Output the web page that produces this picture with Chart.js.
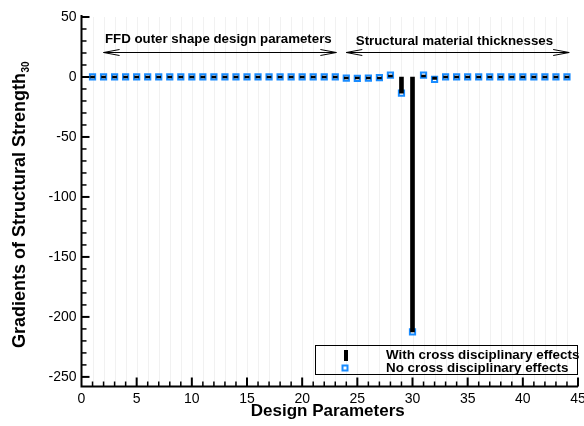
<!DOCTYPE html>
<html>
<head>
<meta charset="utf-8">
<script src="https://cdn.jsdelivr.net/npm/chart.js@4"></script>
<style>
  html, body { margin: 0; padding: 0; background: #fff; }
  #wrap { width: 584px; height: 426px; }
</style>
</head>
<body>
<div id="wrap"><canvas id="c" width="584" height="426"></canvas></div>
<script>
// Design parameter index: 1-23 FFD shape parameters, 24-44 material thicknesses
const params = [1,2,3,4,5,6,7,8,9,10,11,12,13,14,15,16,17,18,19,20,21,22,
                23,24,25,26,27,28,29,30,31,32,33,34,35,36,37,38,39,40,41,42,43,44];

// Gradient of structural strength (element 30) w.r.t. each parameter
const withCross = [0,0,0,0,0,0,0,0,0,0,0,0,0,0,0,0,0,0,0,0,0,0,
                   0,-1,-1.2,-1,-0.5,1.5,-13.5,-212.5,1.5,-2,0,0,0,0,0,0,0,0,0,0,0,0];
const noCross   = [0,0,0,0,0,0,0,0,0,0,0,0,0,0,0,0,0,0,0,0,0,0,
                   0,-1,-1.2,-1,-0.5,1.5,-13.5,-212.5,1.5,-2,0,0,0,0,0,0,0,0,0,0,0,0];

const xTicks = [0,5,10,15,20,25,30,35,40,45];
const yTicks = [50,0,-50,-100,-150,-200,-250];

const seriesNames = ['With cross disciplinary effects', 'No cross disciplinary effects'];
const xTitle = 'Design Parameters';
const yTitle = 'Gradients of Structural Strength';
const yTitleSub = '30';
const groupLabels = ['FFD outer shape design parameters', 'Structural material thicknesses'];

const FONT = '"Liberation Sans", Arial, Helvetica, sans-serif';
const BLUE = '#1a8cff';

function pts(vals) { return params.map((p, i) => ({ x: p, y: vals[i] })); }

function arrowHead(ctx, x, y, dir) {
  ctx.beginPath();
  ctx.moveTo(x + dir * 16, y - 3);
  ctx.lineTo(x, y);
  ctx.lineTo(x + dir * 16, y + 3);
  ctx.stroke();
}

const decor = {
  id: 'decor',
  beforeDatasetsDraw(chart) {
    const { ctx, chartArea: a, scales: { x } } = chart;
    ctx.save();
    ctx.strokeStyle = '#f1f1f1';
    ctx.lineWidth = 1;
    for (let v = 1; v < 45; v++) {
      const px = Math.round(x.getPixelForValue(v)) + 0.5;
      ctx.beginPath(); ctx.moveTo(px, a.top); ctx.lineTo(px, a.bottom); ctx.stroke();
    }
    ctx.restore();
  },
  afterDatasetsDraw(chart) {
    const { ctx, chartArea: a, scales: { x, y } } = chart;
    ctx.save();
    ctx.strokeStyle = '#000';
    ctx.fillStyle = '#000';

    // axis lines
    ctx.lineWidth = 2;
    ctx.beginPath();
    ctx.moveTo(a.left, a.top - 2);
    ctx.lineTo(a.left, a.bottom);
    ctx.lineTo(a.right, a.bottom);
    ctx.stroke();

    // inward ticks on y
    for (let v = -250; v <= 50; v += 10) {
      const major = v % 50 === 0;
      const py = y.getPixelForValue(v);
      ctx.lineWidth = major ? 2 : 1.5;
      ctx.beginPath(); ctx.moveTo(a.left, py); ctx.lineTo(a.left + (major ? 8 : 5), py); ctx.stroke();
    }
    // inward ticks on x
    for (let v = 1; v <= 45; v++) {
      const major = v % 5 === 0;
      const px = x.getPixelForValue(v);
      ctx.lineWidth = major ? 2 : 1.5;
      ctx.beginPath(); ctx.moveTo(px, a.bottom); ctx.lineTo(px, a.bottom - (major ? 9 : 5)); ctx.stroke();
    }

    // parameter group annotations
    ctx.lineWidth = 1;
    const ay = Math.round(y.getPixelForValue(20.5)) + 0.5;
    const spans = [[2, 23.1], [24, 44.2]];
    spans.forEach(([s, e]) => {
      const xs = x.getPixelForValue(s), xe = x.getPixelForValue(e);
      ctx.beginPath(); ctx.moveTo(xs, ay); ctx.lineTo(xe, ay); ctx.stroke();
      arrowHead(ctx, xs, ay, 1);
      arrowHead(ctx, xe, ay, -1);
    });
    ctx.font = 'bold 13.3px ' + FONT;
    ctx.textAlign = 'center';
    ctx.textBaseline = 'alphabetic';
    ctx.fillText(groupLabels[0], x.getPixelForValue(12.4), y.getPixelForValue(28.5));
    ctx.fillText(groupLabels[1], x.getPixelForValue(33.8), y.getPixelForValue(26.5));

    // legend
    const lx0 = 315.5, ly0 = 345.5, lx1 = a.right - 0.5, ly1 = 374.5;
    ctx.lineWidth = 1;
    ctx.strokeRect(lx0, ly0, lx1 - lx0, ly1 - ly0);
    ctx.fillRect(344, 350, 4, 11);
    ctx.fillStyle = '#fff';
    ctx.fillRect(342.5, 365.5, 5, 5);
    ctx.strokeStyle = BLUE;
    ctx.lineWidth = 2;
    ctx.strokeRect(342.5, 365.5, 5, 5);
    ctx.fillStyle = '#000';
    ctx.font = 'bold 13.4px ' + FONT;
    ctx.textAlign = 'left';
    ctx.textBaseline = 'middle';
    ctx.fillText(seriesNames[0], 386, 355.5);
    ctx.fillText(seriesNames[1], 386, 368.5);

    // axis titles
    ctx.font = 'bold 17px ' + FONT;
    ctx.textAlign = 'center';
    ctx.textBaseline = 'alphabetic';
    ctx.fillText(xTitle, (a.left + a.right) / 2 - 2, 416);

    ctx.save();
    ctx.translate(25, 205);
    ctx.rotate(-Math.PI / 2);
    ctx.font = 'bold 18px ' + FONT;
    const w1 = ctx.measureText(yTitle).width;
    ctx.font = 'bold 10px ' + FONT;
    const w2 = ctx.measureText(yTitleSub).width;
    const start = -(w1 + w2) / 2;
    ctx.textAlign = 'left';
    ctx.font = 'bold 18px ' + FONT;
    ctx.fillText(yTitle, start, 0);
    ctx.font = 'bold 10px ' + FONT;
    ctx.fillText(yTitleSub, start + w1 + 0.5, 4);
    ctx.restore();

    ctx.restore();
  }
};

new Chart(document.getElementById('c'), {
  type: 'bar',
  data: {
    datasets: [
      {
        type: 'bar',
        label: seriesNames[0],
        data: pts(withCross),
        backgroundColor: '#000',
        borderWidth: 0,
        barThickness: 4,
        minBarLength: 2,
        order: 0
      },
      {
        type: 'scatter',
        label: seriesNames[1],
        data: pts(noCross),
        pointStyle: 'rect',
        pointRadius: 3.7,
        borderColor: BLUE,
        borderWidth: 2,
        backgroundColor: '#fff',
        showLine: false,
        order: 1
      }
    ]
  },
  options: {
    responsive: false,
    animation: false,
    devicePixelRatio: 1,
    layout: { padding: { top: 17, right: 5.5, bottom: 0, left: 0 } },
    plugins: { legend: { display: false }, tooltip: { enabled: false } },
    scales: {
      x: {
        type: 'linear',
        min: 0, max: 45,
        offset: false,
        grid: { display: false, drawTicks: false },
        border: { display: false },
        afterBuildTicks: s => { s.ticks = xTicks.map(v => ({ value: v })); },
        afterFit: s => { s.height = 39.5; s.paddingLeft = 0; s.paddingRight = 0; },
        ticks: { color: '#000', font: { family: FONT, size: 14 }, padding: 4, maxRotation: 0 }
      },
      y: {
        type: 'linear',
        min: -258, max: 50,
        grid: { display: false, drawTicks: false },
        border: { display: false },
        afterBuildTicks: s => { s.ticks = yTicks.map(v => ({ value: v })); },
        afterFit: s => { s.width = 81.5; s.paddingTop = 0; s.paddingBottom = 0; },
        ticks: { color: '#000', font: { family: FONT, size: 14 }, padding: 5 }
      }
    }
  },
  plugins: [decor]
});
</script>
</body>
</html>
